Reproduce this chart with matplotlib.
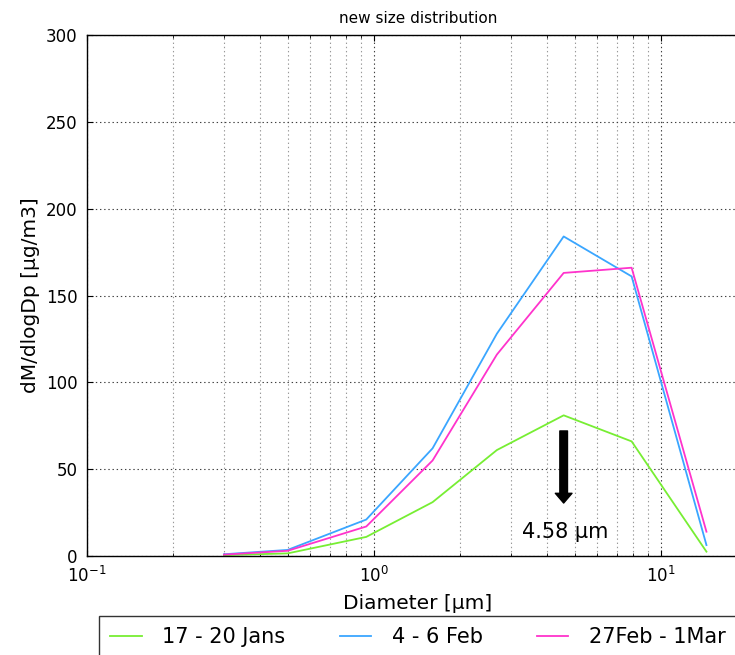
import matplotlib
matplotlib.use("Agg")
import matplotlib.pyplot as plt
from matplotlib.ticker import NullFormatter, LogLocator, MultipleLocator

plt.rcParams['lines.scale_dashes'] = False
plt.rcParams['font.family'] = ['DejaVu Sans']

# Data
diameter = [0.30, 0.50, 0.94, 1.60, 2.68, 4.58, 7.90, 14.4]
jan = [0.5, 1.5, 11, 31, 61, 81, 66, 2.5]
feb = [1.0, 3.5, 21, 62, 128, 184, 161, 6.3]
mar = [0.8, 3.0, 17, 55, 116, 163, 166, 14]
labels = ['17 - 20 Jans', '4 - 6 Feb', '27Feb - 1Mar']
colors = ['#77EE33', '#3AA6FF', '#FF33CC']

peak = 4.58

fig = plt.figure(figsize=(7.35, 6.55), dpi=100)
fig.patch.set_facecolor('white')
# axes run to the right edge of the figure (the reference is cropped there)
ax = fig.add_axes([87/735, 99/655, 648/735, 521/655])

for y, lab, c in zip([jan, feb, mar], labels, colors):
    ax.plot(diameter, y, color=c, lw=1.3, label=lab)

ax.set_xscale('log')
ax.set_xlim(0.1, 10 ** (648 / 287 - 1))
ax.set_ylim(0, 300)
ax.yaxis.set_major_locator(MultipleLocator(50))
ax.xaxis.set_minor_locator(LogLocator(base=10, subs=range(2, 10)))
ax.xaxis.set_minor_formatter(NullFormatter())

ax.grid(True, which='major', linestyle=(0, (1, 2)), color='0.25', lw=0.8)
ax.xaxis.grid(True, which='minor', linestyle=(0, (1, 2)), color='0.6', lw=0.8)

ax.spines['right'].set_visible(False)
ax.tick_params(which='both', direction='in', top=True, right=False, labelsize=12, colors='black')
ax.tick_params(which='major', length=4, pad=7)
ax.tick_params(which='minor', length=2)
for s in ax.spines.values():
    s.set_linewidth(1.0)

cx = (418 - 87) / 648
ax.set_title('new size distribution', fontsize=11, pad=9, x=cx)
ax.set_xlabel('Diameter [µm]', fontsize=14.5, labelpad=6)
ax.xaxis.label.set_x(cx)
ax.set_ylabel('dM/dlogDp [µg/m3]', fontsize=14.5)
ax.yaxis.set_label_coords(-87/648 + 40/648, 0.5)

ax.annotate('', xy=(peak, 30.5), xytext=(peak, 72),
            arrowprops=dict(facecolor='black', edgecolor='black', width=5.5,
                            headwidth=12, headlength=7, shrink=0))
ax.text(peak * 1.01, 14, '%.2f µm' % peak, ha='center', va='center', fontsize=15)

leg = fig.legend(loc='upper center', bbox_to_anchor=(418/735, 39/655), ncol=3,
                 fontsize=15, frameon=True, fancybox=False, edgecolor='black',
                 borderaxespad=0, handlelength=1.5, handletextpad=1.0,
                 columnspacing=2.6, borderpad=0.55)
leg.get_frame().set_linewidth(1.0)
leg.set_in_layout(False)

fig.savefig('out.png', dpi=100, facecolor='white')
